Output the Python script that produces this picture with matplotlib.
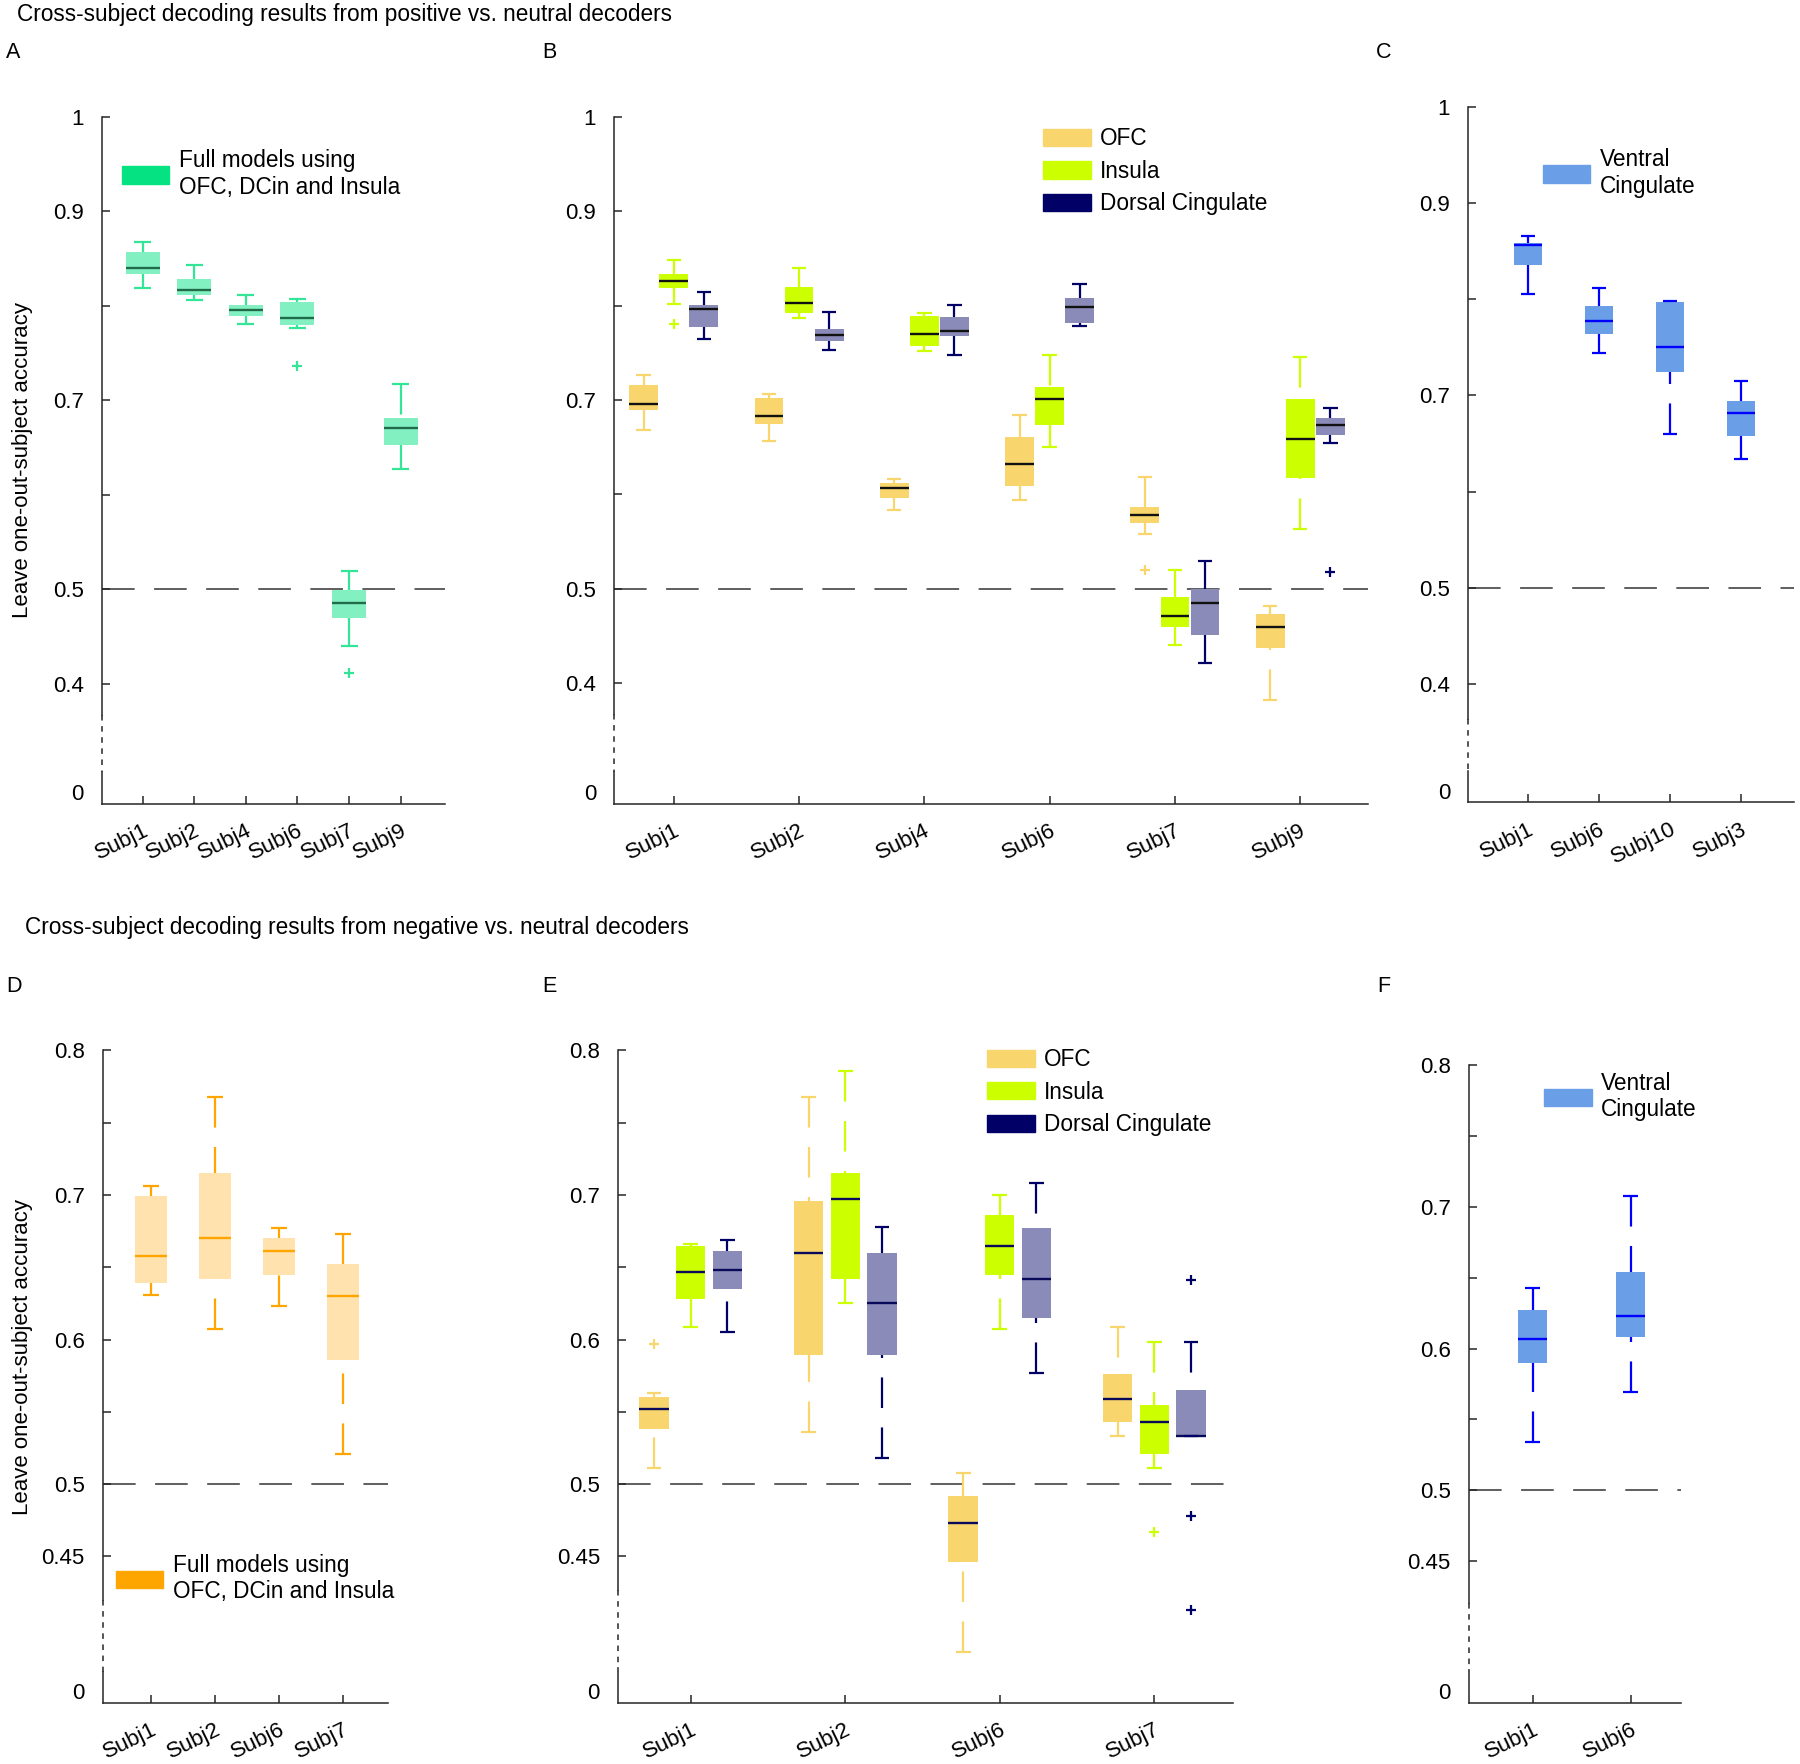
import matplotlib
matplotlib.use("Agg")
import matplotlib.pyplot as plt
from matplotlib.patches import Patch

plt.rcParams['font.family'] = ['Liberation Sans', 'DejaVu Sans']
plt.rcParams['lines.scale_dashes'] = False

### DATA ###
# each box: (whisker low, q1, median, q3, whisker high)

# A - full models, positive vs neutral
a_subjects = ['Subj1', 'Subj2', 'Subj4', 'Subj6', 'Subj7', 'Subj9']
a_boxes = [(0.819, 0.834, 0.840, 0.857, 0.868),
           (0.806, 0.811, 0.817, 0.828, 0.843),
           (0.781, 0.789, 0.796, 0.801, 0.811),
           (0.777, 0.780, 0.787, 0.804, 0.807),
           (0.440, 0.469, 0.485, 0.499, 0.519),
           (0.627, 0.653, 0.671, 0.681, 0.717)]
a_fliers = [[], [], [], [0.736], [0.411], []]

# B - single regions, positive vs neutral
b_subjects = ['Subj1', 'Subj2', 'Subj4', 'Subj6', 'Subj7', 'Subj9']
b_ofc = [(0.668, 0.689, 0.696, 0.716, 0.726),
         (0.656, 0.675, 0.683, 0.702, 0.706),
         (0.583, 0.596, 0.607, 0.612, 0.616),
         (0.594, 0.609, 0.632, 0.661, 0.684),
         (0.558, 0.569, 0.578, 0.587, 0.618),
         (0.382, 0.437, 0.459, 0.473, 0.482)]
b_ofc_fliers = [[], [], [], [], [0.520], []]
b_insula = [(0.802, 0.819, 0.826, 0.834, 0.848),
            (0.787, 0.792, 0.803, 0.820, 0.840),
            (0.752, 0.757, 0.770, 0.789, 0.792),
            (0.650, 0.673, 0.701, 0.714, 0.748),
            (0.440, 0.459, 0.471, 0.491, 0.520),
            (0.563, 0.617, 0.659, 0.701, 0.745)]
b_insula_fliers = [[0.780], [], [], [], [], []]
b_dc = [(0.765, 0.777, 0.796, 0.801, 0.814),
        (0.753, 0.763, 0.769, 0.775, 0.793),
        (0.748, 0.768, 0.773, 0.788, 0.801),
        (0.778, 0.782, 0.799, 0.808, 0.823),
        (0.421, 0.451, 0.485, 0.500, 0.529),
        (0.654, 0.663, 0.673, 0.681, 0.691)]
b_dc_fliers = [[], [], [], [], [], [0.518]]

# C - ventral cingulate, positive vs neutral
c_subjects = ['Subj1', 'Subj6', 'Subj10', 'Subj3']
c_boxes = [(0.805, 0.836, 0.856, 0.858, 0.866),
           (0.744, 0.764, 0.777, 0.793, 0.812),
           (0.660, 0.724, 0.750, 0.797, 0.798),
           (0.634, 0.658, 0.682, 0.694, 0.715)]

# D - full models, negative vs neutral
d_subjects = ['Subj1', 'Subj2', 'Subj6', 'Subj7']
d_boxes = [(0.631, 0.639, 0.658, 0.699, 0.706),
           (0.607, 0.642, 0.670, 0.715, 0.768),
           (0.623, 0.645, 0.661, 0.670, 0.677),
           (0.521, 0.586, 0.630, 0.652, 0.673)]

# E - single regions, negative vs neutral
e_subjects = ['Subj1', 'Subj2', 'Subj6', 'Subj7']
e_ofc = [(0.511, 0.538, 0.552, 0.560, 0.563),
         (0.536, 0.589, 0.660, 0.696, 0.768),
         (0.384, 0.446, 0.473, 0.492, 0.508),
         (0.533, 0.543, 0.559, 0.576, 0.609)]
e_ofc_fliers = [[0.597], [], [], []]
e_insula = [(0.609, 0.628, 0.647, 0.665, 0.666),
            (0.625, 0.642, 0.697, 0.715, 0.786),
            (0.607, 0.645, 0.665, 0.686, 0.700),
            (0.511, 0.521, 0.543, 0.555, 0.598)]
e_insula_fliers = [[], [], [], [0.467]]
e_dc = [(0.605, 0.635, 0.648, 0.661, 0.669),
        (0.518, 0.589, 0.625, 0.660, 0.678),
        (0.577, 0.615, 0.642, 0.677, 0.708),
        (0.533, 0.533, 0.533, 0.565, 0.598)]
e_dc_fliers = [[], [], [], [0.641, 0.478, 0.413]]

# F - ventral cingulate, negative vs neutral
f_subjects = ['Subj1', 'Subj6']
f_boxes = [(0.534, 0.590, 0.607, 0.627, 0.643),
           (0.569, 0.608, 0.623, 0.654, 0.708)]

### COLOURS ###
GREEN = dict(face='#82F0C0', line='#33E597', med='#1F6B4A', legend='#05E282')
OFC = dict(face='#F8D66D', line='#F8D66D', med='#111111', legend='#F8D66D')
INS = dict(face='#CCFF00', line='#CCFF00', med='#111111', legend='#CCFF00')
DC = dict(face='#8A8BB8', line='#000066', med='#111111', legend='#000066')
ORANGE = dict(face='#FFE2AE', line='#FFA500', med='#FFA500', legend='#FFA500')
BLUE = dict(face='#6A9FE8', line='#0000FF', med='#0000FF', legend='#6A9FE8')

SPINE = '#262626'
TICK_FS = 16
TEXT_FS = 16.3
W, H = 1800, 1764

fig = plt.figure(figsize=(W / 100, H / 100), dpi=100)


def add_axes(left, right, top, bottom):
    # positions in pixels of the final image
    return fig.add_axes([left / W, 1 - bottom / H, (right - left) / W, (bottom - top) / H])


def draw_box(ax, x, stats, width, col, fliers=()):
    lo, q1, med, q3, hi = stats
    ax.bar(x, q3 - q1, width=width, bottom=q1, color=col['face'], edgecolor='none', zorder=2)
    ax.hlines(med, x - width / 2, x + width / 2, color=col['med'], lw=1.7, zorder=3)
    # whiskers are dashed, pattern starting at the whisker end
    for end, edge in ((hi, q3), (lo, q1)):
        if end != edge:
            ax.plot([x, x], [end, edge], color=col['line'], lw=1.6,
                    ls=(0, (22, 14)), solid_capstyle='butt', zorder=2)
    ax.hlines([lo, hi], x - width / 4, x + width / 4, color=col['line'], lw=1.6, zorder=3)
    if len(fliers):
        ax.plot([x] * len(fliers), fliers, '+', color=col['line'], ms=7, mew=1.6, zorder=3)


def draw_group(ax, boxes, fliers, col, offset, width):
    for i, stats in enumerate(boxes):
        draw_box(ax, i + 1 + offset, stats, width, col, fliers[i] if fliers else ())


def style_axes(ax, xlim, ylim, subjects, yticks, ylabels, brk):
    ax.set_xlim(*xlim)
    ax.set_ylim(*ylim)
    ax.set_xticks(range(1, len(subjects) + 1), subjects, fontsize=TICK_FS)
    plt.setp(ax.get_xticklabels(), rotation=26, ha='right', rotation_mode='anchor')
    ax.set_yticks(yticks, ylabels, fontsize=TICK_FS)
    ax.tick_params(direction='in', length=6, width=1.1, color=SPINE)
    ax.tick_params(axis='y', pad=13)
    ax.tick_params(axis='x', pad=12)
    for s in ('top', 'right', 'left'):
        ax.spines[s].set_visible(False)
    ax.spines['bottom'].set_color(SPINE)
    ax.spines['bottom'].set_linewidth(1.1)
    # broken y axis: solid, dashed gap, solid
    tr = ax.get_yaxis_transform()
    ax.plot([0, 0], [ylim[1], brk[0]], transform=tr, color=SPINE, lw=1.1, clip_on=False)
    ax.plot([0, 0], [brk[0], brk[1]], transform=tr, color=SPINE, lw=1.1, ls=(0, (4, 4)), clip_on=False)
    ax.plot([0, 0], [brk[1], ylim[0]], transform=tr, color=SPINE, lw=1.1, clip_on=False)
    ax.annotate('0', xy=(0, ylim[0]), xycoords=tr, xytext=(-13, 6.5), textcoords='offset points',
                ha='right', va='center', fontsize=TICK_FS)
    # chance level
    ax.axhline(0.5, color='#333333', lw=1.1, ls=(0, (23.5, 14)), zorder=1)


def add_legend(ax, labels, cols, x, y):
    handles = [Patch(facecolor=c['legend'], edgecolor=c['legend']) for c in cols]
    ax.legend(handles, labels, loc='center left', bbox_to_anchor=(x, y), frameon=False,
              fontsize=TEXT_FS, handlelength=2.1, handleheight=0.8, handletextpad=0.42,
              borderpad=0, borderaxespad=0, labelspacing=0.42)


top_ticks = [0.4, 0.5, 0.6, 0.7, 0.8, 0.9, 1.0]
top_labels = ['0.4', '0.5', '', '0.7', '', '0.9', '1']
bot_ticks = [0.45, 0.5, 0.55, 0.6, 0.65, 0.7, 0.75, 0.8]
bot_labels = ['0.45', '0.5', '', '0.6', '', '0.7', '', '0.8']
full_label = 'Full models using\nOFC, DCin and Insula'
region_labels = ['OFC', 'Insula', 'Dorsal Cingulate']

### A ###
axA = add_axes(101.7, 445, 117, 803.6)
draw_group(axA, a_boxes, a_fliers, GREEN, 0, 0.66)
style_axes(axA, (0.205, 6.86), (0.273, 1.0), a_subjects, top_ticks, top_labels, (0.367, 0.306))
axA.set_ylabel('Leave one-out-subject accuracy', fontsize=16)
axA.yaxis.set_label_coords(-0.199, 0.5)
add_legend(axA, [full_label], [GREEN], 0.058, 0.917)

### B ###
axB = add_axes(614.2, 1367.9, 117, 803.6)
draw_group(axB, b_ofc, b_ofc_fliers, OFC, -0.24, 0.23)
draw_group(axB, b_insula, b_insula_fliers, INS, 0, 0.23)
draw_group(axB, b_dc, b_dc_fliers, DC, 0.24, 0.23)
style_axes(axB, (0.525, 6.54), (0.272, 1.0), b_subjects, top_ticks, top_labels, (0.367, 0.306))
add_legend(axB, region_labels, [OFC, INS, DC], 0.569, 0.921)

### C ###
axC = add_axes(1468.3, 1794, 106.8, 802.3)
draw_group(axC, c_boxes, None, BLUE, 0, 0.4)
style_axes(axC, (0.153, 4.75), (0.277, 1.0), c_subjects, top_ticks, top_labels, (0.364, 0.31))
add_legend(axC, ['Ventral\nCingulate'], [BLUE], 0.228, 0.905)

### D ###
axD = add_axes(102.7, 388.3, 1050.4, 1702.5)
draw_group(axD, d_boxes, None, ORANGE, 0, 0.5)
style_axes(axD, (0.247, 4.70), (0.349, 0.8), d_subjects, bot_ticks, bot_labels, (0.42, 0.37))
axD.set_ylabel('Leave one-out-subject accuracy', fontsize=16)
axD.yaxis.set_label_coords(-0.243, 0.53)
add_legend(axD, [full_label], [ORANGE], 0.046, 0.19)

### E ###
axE = add_axes(618, 1233.2, 1050.4, 1702.5)
e_cols = [dict(OFC, med='#0A0A5A'), dict(INS, med='#0A0A5A'), dict(DC, med='#0A0A5A')]
draw_group(axE, e_ofc, e_ofc_fliers, e_cols[0], -0.237, 0.19)
draw_group(axE, e_insula, e_insula_fliers, e_cols[1], 0, 0.19)
draw_group(axE, e_dc, e_dc_fliers, e_cols[2], 0.237, 0.19)
style_axes(axE, (0.53, 4.51), (0.349, 0.8), e_subjects, bot_ticks, bot_labels, (0.427, 0.373))
add_legend(axE, region_labels, [OFC, INS, DC], 0.600, 0.936)

### F ###
axF = add_axes(1468.8, 1681.4, 1065.3, 1702.5)
draw_group(axF, f_boxes, None, BLUE, 0, 0.3)
style_axes(axF, (0.345, 2.52), (0.35, 0.8), f_subjects, bot_ticks, bot_labels, (0.42, 0.373))
add_legend(axF, ['Ventral\nCingulate'], [BLUE], 0.354, 0.951)

### TITLES AND PANEL LETTERS ###
fig.text(17 / W, 1 - 14 / H, 'Cross-subject decoding results from positive vs. neutral decoders',
         fontsize=TEXT_FS, va='center')
fig.text(25 / W, 1 - 927.6 / H, 'Cross-subject decoding results from negative vs. neutral decoders',
         fontsize=TEXT_FS, va='center')
for letter, x, y in [('A', 6, 52), ('B', 542, 52), ('C', 1376, 52),
                     ('D', 6, 987), ('E', 542, 987), ('F', 1377, 987)]:
    fig.text(x / W, 1 - y / H, letter, fontsize=15.5, va='center')

fig.savefig('out.png', dpi=100)
